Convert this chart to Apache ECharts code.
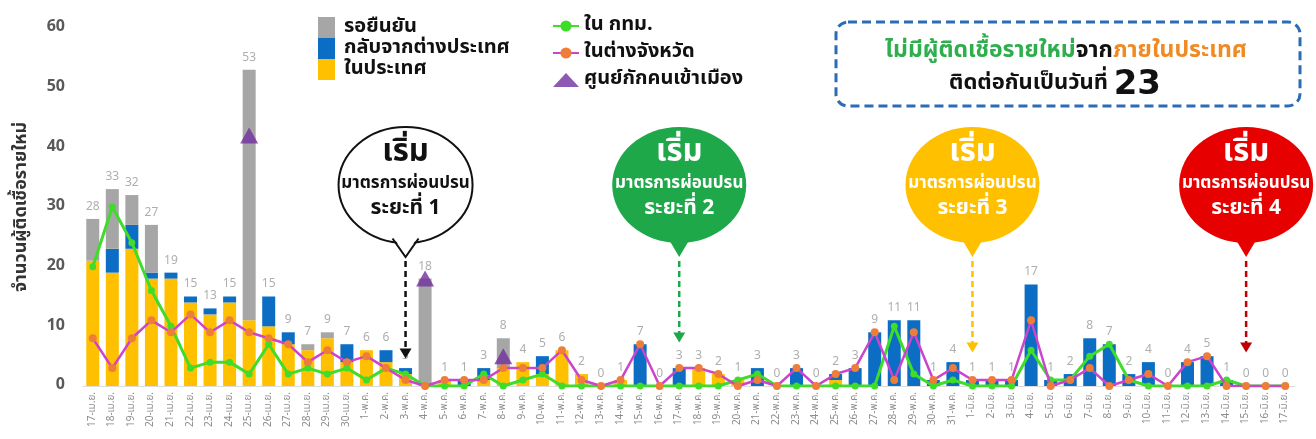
<!DOCTYPE html>
<html><head><meta charset="utf-8">
<script src="https://cdn.jsdelivr.net/npm/echarts@6/dist/echarts.min.js"></script>
<style>html,body{margin:0;padding:0;background:#fff}#c{width:1316px;height:439px}</style>
</head><body><div id="c"></div>
<script>
const FONT = "'Noto Sans Thai','Noto Sans Thai UI','Loma','Garuda','Noto Sans','DejaVu Sans',sans-serif";

const aprLabels = ['17-เม.ย.','18-เม.ย.','19-เม.ย.','20-เม.ย.','21-เม.ย.','22-เม.ย.','23-เม.ย.','24-เม.ย.','25-เม.ย.','26-เม.ย.','27-เม.ย.','28-เม.ย.','29-เม.ย.','30-เม.ย.'];
const mayLabels = ['1-พ.ค.','2-พ.ค.','3-พ.ค.','4-พ.ค.','5-พ.ค.','6-พ.ค.','7-พ.ค.','8-พ.ค.','9-พ.ค.','10-พ.ค.','11-พ.ค.','12-พ.ค.','13-พ.ค.','14-พ.ค.','15-พ.ค.','16-พ.ค.','17-พ.ค.','18-พ.ค.','19-พ.ค.','20-พ.ค.','21-พ.ค.','22-พ.ค.','23-พ.ค.','24-พ.ค.','25-พ.ค.','26-พ.ค.','27-พ.ค.','28-พ.ค.','29-พ.ค.','30-พ.ค.','31-พ.ค.'];
const junLabels = ['1-มิ.ย.','2-มิ.ย.','3-มิ.ย.','4-มิ.ย.','5-มิ.ย.','6-มิ.ย.','7-มิ.ย.','8-มิ.ย.','9-มิ.ย.','10-มิ.ย.','11-มิ.ย.','12-มิ.ย.','13-มิ.ย.','14-มิ.ย.','15-มิ.ย.','16-มิ.ย.','17-มิ.ย.'];
const categories = aprLabels.concat(mayLabels, junLabels);

// ในประเทศ (yellow)
const domestic = [21,19,23,18,18,14,12,14,11,10,7,6,8,4,
  6,4,2,0,1,0,1,3,4,2,6,2,0,1,0,0,0,3,2,1,0,0,0,0,1,0,0,0,0,0,0,
  0,0,0,0,0,0,0,0,0,0,0,0,0,0,0,0,0];
// กลับจากต่างประเทศ (blue)
const returned = [0,4,4,1,1,1,1,1,0,5,2,0,0,3,
  0,2,1,0,0,1,2,0,0,3,0,0,0,0,7,0,3,0,0,0,3,0,3,0,1,3,9,11,11,1,4,
  1,1,1,17,1,2,8,7,2,4,0,4,5,1,0,0,0];
// รอยืนยัน (grey)
const pending = [7,10,5,8,0,0,0,0,42,0,0,1,1,0,
  0,0,0,18,0,0,0,5,0,0,0,0,0,0,0,0,0,0,0,0,0,0,0,0,0,0,0,0,0,0,0,
  0,0,0,0,0,0,0,0,0,0,0,0,0,0,0,0,0];
// total labels
const totals = [28,33,32,27,19,15,13,15,53,15,9,7,9,7,
  6,6,3,18,1,1,3,8,4,5,6,2,0,1,7,0,3,3,2,1,3,0,3,0,2,3,9,11,11,1,4,
  1,1,1,17,1,2,8,7,2,4,0,4,5,1,0,0,0];
// ใน กทม. (green line)
const bangkok = [20,30,24,16,10,3,4,4,2,7,2,3,2,3,
  1,3,2,0,0,0,2,0,1,2,0,0,0,0,0,0,0,0,0,1,2,0,0,0,0,0,0,10,2,0,1,
  0,0,0,6,1,1,5,7,1,0,0,0,0,1,0,0,0];
// ในต่างจังหวัด (magenta line)
const provinces = [8,3,8,11,9,12,9,11,9,8,7,4,6,4,
  5,3,1,0,1,1,1,3,3,3,6,1,0,1,7,0,3,3,2,0,1,0,3,0,2,3,9,1,9,1,3,
  1,1,1,11,0,1,3,0,1,2,0,4,5,0,0,0,0];
// ศูนย์กักคนเข้าเมือง (triangles)
const detentionDates = ['25-เม.ย.','4-พ.ค.','8-พ.ค.'];
const detentionValues = [42,18,5];

const phases = [
  {date:'3-พ.ค.', n:'1', fill:'#ffffff', stroke:'#111111', text:'#111111', arrow:'#111111', tip:4.6},
  {date:'17-พ.ค.', n:'2', fill:'#1FA84A', stroke:null, text:'#ffffff', arrow:'#1FA84A', tip:7.3},
  {date:'1-มิ.ย.', n:'3', fill:'#FFC000', stroke:null, text:'#ffffff', arrow:'#FFC000', tip:5.6},
  {date:'15-มิ.ย.', n:'4', fill:'#E60000', stroke:null, text:'#ffffff', arrow:'#C00000', tip:5.6}
];

const detention = categories.map(c => { const i = detentionDates.indexOf(c); return i >= 0 ? detentionValues[i] : '-'; });

const chart = echarts.init(document.getElementById('c'), null, {renderer:'canvas'});
const option = {
  animation: false,
  backgroundColor: '#ffffff',
  textStyle: {fontFamily: FONT},
  grid: {left: 83, right: 21, top: 28, bottom: 53},
  legend: [
    {orient:'vertical', left:313, top:12, itemWidth:17, itemHeight:21, itemGap:0, icon:'rect',
     data:['รอยืนยัน','กลับจากต่างประเทศ','ในประเทศ'],
     textStyle:{fontFamily:FONT, fontSize:20, lineHeight:21, fontWeight:'bold', color:'#111', padding:[0,0,0,4]}},
    {orient:'vertical', left:547, top:10, itemWidth:26, itemHeight:14, itemGap:5,
     data:['ใน กทม.','ในต่างจังหวัด','ศูนย์กักคนเข้าเมือง'],
     textStyle:{fontFamily:FONT, fontSize:20, lineHeight:22, fontWeight:'bold', color:'#111', padding:[0,0,0,0]}}
  ],
  xAxis: {
    type:'category', data: categories,
    axisTick:{show:false},
    axisLine:{lineStyle:{color:'#dcdcdc', width:1}},
    axisLabel:{rotate:90, interval:0, fontSize:10, color:'#8c8c8c', margin:6, fontFamily:FONT}
  },
  yAxis: {
    type:'value', min:0, max:60, interval:10,
    splitLine:{show:false}, axisLine:{show:false}, axisTick:{show:false},
    axisLabel:{fontSize:16, fontWeight:'bold', color:'#595959', margin:18, fontFamily:FONT},
    name:'จำนวนผู้ติดเชื้อรายใหม่', nameLocation:'middle', nameGap:52, nameRotate:90,
    nameTextStyle:{fontSize:18, fontWeight:'bold', color:'#333', fontFamily:FONT}
  },
  series: [
    {name:'ในประเทศ', type:'bar', stack:'a', barWidth:13, data:domestic, itemStyle:{color:'#FFC000'}},
    {name:'กลับจากต่างประเทศ', type:'bar', stack:'a', barWidth:13, data:returned, itemStyle:{color:'#0B6DC3'}},
    {name:'รอยืนยัน', type:'bar', stack:'a', barWidth:13, data:pending, itemStyle:{color:'#A6A6A6'}},
    {name:'ใน กทม.', type:'line', data:bangkok, symbol:'circle', symbolSize:7, z:3,
     lineStyle:{color:'#3FDC2A', width:3}, itemStyle:{color:'#3FDC2A'}},
    {name:'ในต่างจังหวัด', type:'line', data:provinces, symbol:'circle', symbolSize:8, z:4,
     lineStyle:{color:'#CC44CC', width:2.5}, itemStyle:{color:'#EE7D3A'}},
    {name:'ศูนย์กักคนเข้าเมือง', type:'scatter', data:detention, symbol:'triangle', symbolSize:[18,16], z:5,
     itemStyle:{color:'#7030A0'}},
    {name:'total', type:'scatter', data:totals, symbolSize:1, z:6, silent:true,
     itemStyle:{color:'rgba(0,0,0,0)'},
     label:{show:true, position:'top', distance:5, color:'#9a9a9a', fontSize:12, fontFamily:FONT}}
  ]
};
chart.setOption(option);

const graphics = [];
// top-right dashed box
graphics.push({type:'rect', shape:{x:836, y:22, width:464, height:84, r:12},
  style:{fill:'#fff', stroke:'#2B6CB4', lineWidth:3, lineDash:[9,5]}, z:10});
graphics.push({type:'text', z:11, style:{
  x:1066, y:52, align:'center', verticalAlign:'middle', textAlign:'center', textVerticalAlign:'middle',
  text:'{g|ไม่มีผู้ติดเชื้อรายใหม่}{k|จาก}{o|ภายในประเทศ}',
  rich:{
    g:{fill:'#2FAE4E', fontSize:23, fontWeight:'bold', fontFamily:FONT},
    k:{fill:'#111', fontSize:23, fontWeight:'bold', fontFamily:FONT},
    o:{fill:'#F08A24', fontSize:23, fontWeight:'bold', fontFamily:FONT}
  }}});
graphics.push({type:'text', z:11, style:{
  x:1055, y:85, align:'center', verticalAlign:'middle', textAlign:'center', textVerticalAlign:'middle',
  text:'{k|ติดต่อกันเป็นวันที่ }{n|23}',
  rich:{
    k:{fill:'#111', fontSize:22, fontWeight:'bold', fontFamily:FONT},
    n:{fill:'#111', fontSize:34, fontWeight:'bold', fontFamily:'DejaVu Sans, sans-serif'}
  }}});

phases.forEach(p => {
  const x = chart.convertToPixel({xAxisIndex:0}, p.date);
  const tipY = chart.convertToPixel({yAxisIndex:0}, p.tip);
  const cx = x, cy = 185, rx = 67, ry = 58, tailTip = 257;
  // dashed arrow
  graphics.push({type:'line', z:9, shape:{x1:x, y1:tailTip + 4, x2:x, y2:tipY - 8},
    style:{stroke:p.arrow, lineWidth:2.5, lineDash:[6,4]}});
  graphics.push({type:'polygon', z:9, shape:{points:[[x-6, tipY-10],[x+6, tipY-10],[x, tipY]]},
    style:{fill:p.arrow}});
  // bubble
  graphics.push({type:'ellipse', z:12, shape:{cx:cx, cy:cy, rx:rx, ry:ry},
    style:{fill:p.fill, stroke:p.stroke || null, lineWidth:p.stroke ? 2 : 0}});
  graphics.push({type:'polygon', z:13, shape:{points:[[x-13, cy+ry-8],[x+13, cy+ry-8],[x, tailTip]]},
    style:{fill:p.fill}});
  if (p.stroke) {
    graphics.push({type:'polyline', z:14, shape:{points:[[x-13, cy+ry-4.5],[x, tailTip],[x+13, cy+ry-4.5]]},
      style:{stroke:p.stroke, lineWidth:2, fill:null}});
  }
  graphics.push({type:'text', z:15, style:{x:cx, y:cy-30, text:'เริ่ม', fill:p.text,
    align:'center', verticalAlign:'middle', textAlign:'center', textVerticalAlign:'middle',
    font:'bold 31px ' + FONT}});
  graphics.push({type:'text', z:15, style:{x:cx, y:cy, text:'มาตรการผ่อนปรน', fill:p.text,
    align:'center', verticalAlign:'middle', textAlign:'center', textVerticalAlign:'middle',
    font:'bold 17px ' + FONT}});
  graphics.push({type:'text', z:15, style:{x:cx, y:cy+25, text:'ระยะที่ ' + p.n, fill:p.text,
    align:'center', verticalAlign:'middle', textAlign:'center', textVerticalAlign:'middle',
    font:'bold 21px ' + FONT}});
});
chart.setOption({graphic: graphics});
</script>
</body></html>
